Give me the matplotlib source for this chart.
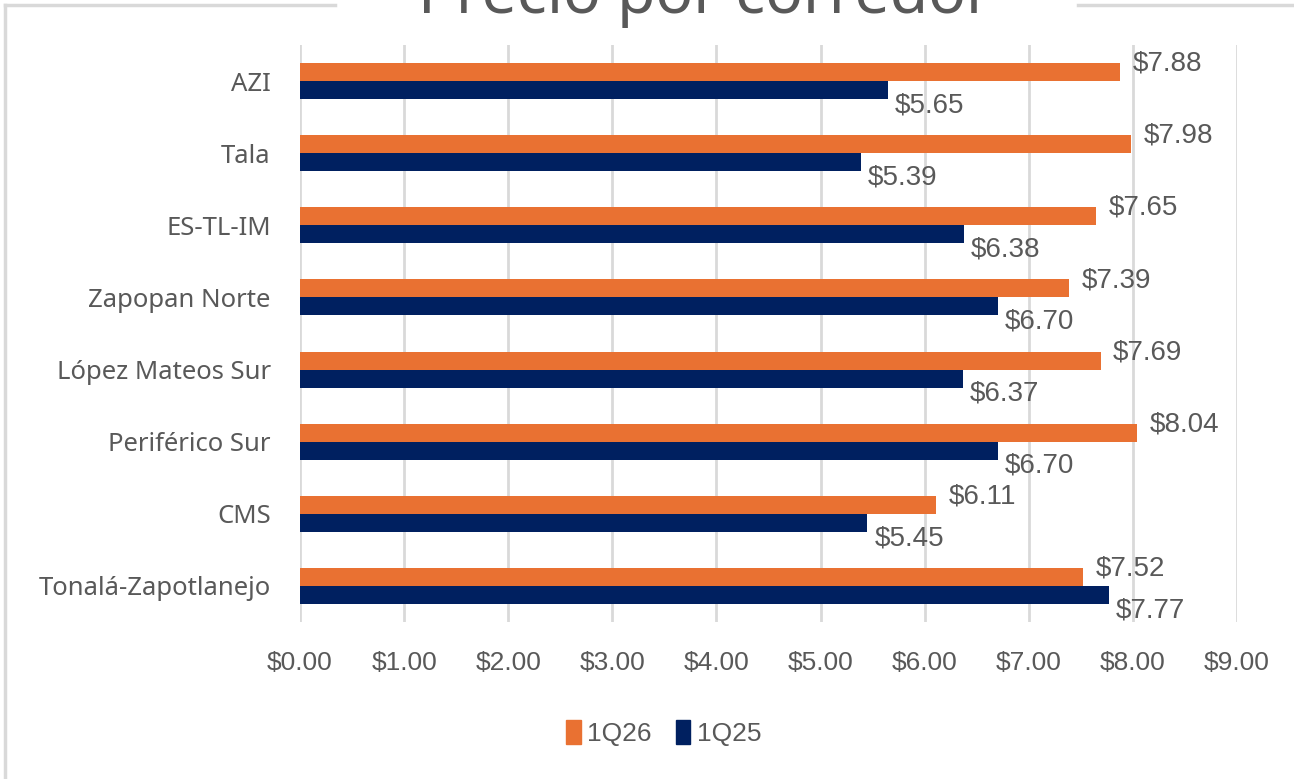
import numpy as np
import matplotlib
matplotlib.use('Agg')
import matplotlib.pyplot as plt
from matplotlib.lines import Line2D
from matplotlib.patches import Patch

# datos
corredores = ['AZI', 'Tala', 'ES-TL-IM', 'Zapopan Norte', 'López Mateos Sur',
              'Periférico Sur', 'CMS', 'Tonalá-Zapotlanejo']
q26 = [7.88, 7.98, 7.65, 7.39, 7.69, 8.04, 6.11, 7.52]
q25 = [5.65, 5.39, 6.38, 6.70, 6.37, 6.70, 5.45, 7.77]
ticks_x = np.arange(0, 10)

naranja = '#E97132'
azul = '#002060'
gris = '#595959'
rejilla = '#D9D9D9'

fig = plt.figure(figsize=(12.94, 7.79), dpi=100)
ax = fig.add_axes([300/1294, 1-622/779, 937/1294, 577/779])

y = np.arange(len(corredores))
h = 0.25
ax.barh(y - h/2, q26, height=h, color=naranja, label='1Q26', zorder=3)
ax.barh(y + h/2, q25, height=h, color=azul, label='1Q25', zorder=3)

# etiquetas de datos
for i in range(len(corredores)):
    ax.annotate('$%.2f' % q26[i], (q26[i], y[i] - h/2), xytext=(9, 6),
                textcoords='offset points', ha='left', va='center',
                fontsize=20, color=gris, family='Liberation Sans')
    ax.annotate('$%.2f' % q25[i], (q25[i], y[i] + h/2), xytext=(5, -11),
                textcoords='offset points', ha='left', va='center',
                fontsize=20, color=gris, family='Liberation Sans')

ax.set_xlim(0, 9)
ax.set_ylim(len(corredores) - 0.5, -0.5)
ax.set_xticks(ticks_x)
ax.set_xticklabels(['$%.2f' % t for t in ticks_x], family='Liberation Sans',
                   fontsize=19, color=gris)
ax.set_yticks(y)
ax.set_yticklabels(corredores, family='Noto Sans', fontsize=18.5, color=gris)
ax.tick_params(axis='both', length=0, pad=21)
ax.grid(axis='x', color=rejilla, linewidth=2, zorder=0)
for s in ax.spines.values():
    s.set_visible(False)

handles = [Patch(color=naranja), Patch(color=azul)]
fig.legend(handles, ['1Q26', '1Q25'], loc='center', bbox_to_anchor=(0.513, 0.059),
           ncol=2, frameon=False, handlelength=0.55, handleheight=1.0,
           handletextpad=0.25, columnspacing=0.9,
           prop={'family': 'Liberation Sans', 'size': 19}, labelcolor=gris)

# marco del grafico
fig.add_artist(Line2D([5/1294, 335/1294], [1-5/779, 1-5/779], color=rejilla, lw=2.5))
fig.add_artist(Line2D([1078/1294, 1.0], [1-5/779, 1-5/779], color=rejilla, lw=2.5))
fig.add_artist(Line2D([5/1294, 5/1294], [0, 1-5/779], color=rejilla, lw=2.5))

fig.text(705/1294, 1-13/779, 'Precio por corredor', ha='center', va='baseline',
         fontsize=45, color=gris, family='Noto Sans', weight='light')

fig.savefig('out.png', dpi=100)
